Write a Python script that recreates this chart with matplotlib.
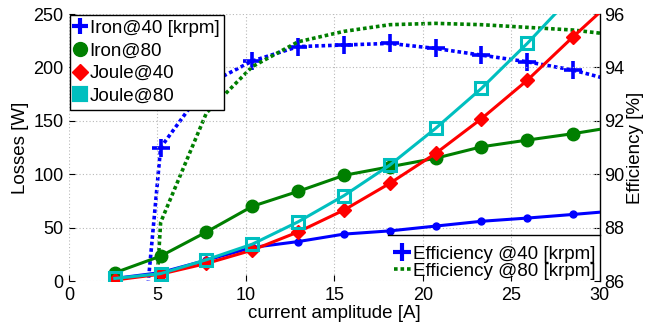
import matplotlib
matplotlib.use("Agg")
import matplotlib.pyplot as plt
from matplotlib.lines import Line2D

plt.rcParams['font.family'] = ['Liberation Sans', 'DejaVu Sans']

# ---- data ----
current = [2.59, 5.18, 7.77, 10.36, 12.95, 15.54, 18.13, 20.72, 23.31, 25.90, 28.49, 31.08]
iron40 = [2.5, 8.0, 19.6, 31.5, 37.0, 44.0, 47.0, 51.5, 56.0, 59.0, 62.4, 66.0]
iron80 = [7.8, 23.4, 46.0, 70.0, 84.0, 99.0, 107.0, 115.0, 125.7, 132.0, 138.0, 145.0]
joule40 = [1.0, 6.5, 16.5, 29.0, 46.0, 66.5, 91.5, 119.5, 152.0, 188.0, 228.7, 268.0]
joule80 = [2.5, 7.0, 20.0, 34.6, 55.5, 80.0, 108.6, 143.0, 180.4, 222.5, 268.0, 318.0]
eff40 = [72.4, 91.0, 93.35, 94.24, 94.78, 94.84, 94.9, 94.71, 94.46, 94.21, 93.9, 93.45]
eff80 = [60.0, 88.2, 92.3, 94.03, 94.96, 95.35, 95.6, 95.65, 95.6, 95.5, 95.4, 95.2]

left_labels = ["Iron@40 [krpm]", "Iron@80", "Joule@40", "Joule@80"]
right_labels = ["Efficiency @40 [krpm]", "Efficiency @80 [krpm]"]
xlabel = "current amplitude [A]"
ylabel_left = "Losses [W]"
ylabel_right = "Efficiency [%]"

BLUE = "#0000ff"
GREEN = "#007f00"
RED = "#ff0000"
CYAN = "#00bfbf"

fig = plt.figure(figsize=(6.57, 3.22), dpi=100)
ax = fig.add_axes([0.105, 0.127, 0.808, 0.8295])
ax2 = ax.twinx()
ax.set_zorder(ax2.get_zorder() + 1)
ax.patch.set_visible(False)

# right axis: efficiency
dot = (0, (1, 0.8))
ax2.plot(current, eff40, color=BLUE, lw=2.6, ls=dot, marker='+', ms=13, mew=2.6)
ax2.plot(current, eff80, color=GREEN, lw=2.6, ls=dot)
ax2.set_ylim(86, 96)
ax2.set_yticks([86, 88, 90, 92, 94, 96])

# left axis: losses
ax.plot(current, iron40, color=BLUE, lw=2.2, marker='o', ms=5)
ax.plot(current, iron80, color=GREEN, lw=2.2, marker='o', ms=9)
ax.plot(current, joule40, color=RED, lw=2.2, marker='D', ms=7)
ax.plot(current, joule80, color=CYAN, lw=2.2, marker='s', ms=8, mfc='none', mew=2.2)
ax.set_xlim(0, 30)
ax.set_ylim(0, 250)
ax.set_xticks([0, 5, 10, 15, 20, 25, 30])
ax.set_yticks([0, 50, 100, 150, 200, 250])

ax.grid(True, color='#b8b8b8', ls=(0, (1, 2)), lw=0.8)

for a in (ax, ax2):
    for s in ('top', 'bottom', 'left'):
        a.spines[s].set_visible(False)
ax.spines['right'].set_visible(False)
ax2.spines['right'].set_linewidth(1.0)

ax.tick_params(axis='both', direction='in', length=4, labelsize=13, pad=4)
ax2.tick_params(axis='y', direction='in', length=4, labelsize=13, pad=3)

ax.set_xlabel(xlabel, fontsize=13.5, labelpad=1)
ax.set_ylabel(ylabel_left, fontsize=13.5, labelpad=3)
ax2.set_ylabel(ylabel_right, fontsize=13.5, labelpad=2)

# legend 1 (upper left)
h1 = [Line2D([], [], color=BLUE, ls='none', marker='+', ms=11, mew=3),
      Line2D([], [], color=GREEN, ls='none', marker='o', ms=10),
      Line2D([], [], color=RED, ls='none', marker='D', ms=8),
      Line2D([], [], color=CYAN, ls='none', marker='s', ms=8, mew=3)]
leg1 = ax.legend(h1, left_labels, loc='upper left', bbox_to_anchor=(0.0, 1.0),
                 borderaxespad=0.05, fontsize=13.5, handlelength=0.6, handletextpad=0.2,
                 labelspacing=0.3, borderpad=0.25, fancybox=False, framealpha=1,
                 edgecolor='black')
leg1.get_frame().set_linewidth(1.0)
ax.add_artist(leg1)

# legend 2 (lower right)
h2 = [Line2D([], [], color=BLUE, ls='none', marker='+', ms=13, mew=3),
      Line2D([], [], color=GREEN, ls=dot, lw=2.6)]
leg2 = ax.legend(h2, right_labels, loc='lower right', bbox_to_anchor=(1.0, -0.01),
                 borderaxespad=0.0, fontsize=13.5, handlelength=0.9, handletextpad=0.15,
                 labelspacing=0.0, borderpad=0.2, frameon=False)
ax.plot([0.601, 1.0], [0.172, 0.172], transform=ax.transAxes, color='black', lw=1.0,
        clip_on=False)

fig.savefig("out.png", dpi=100)
